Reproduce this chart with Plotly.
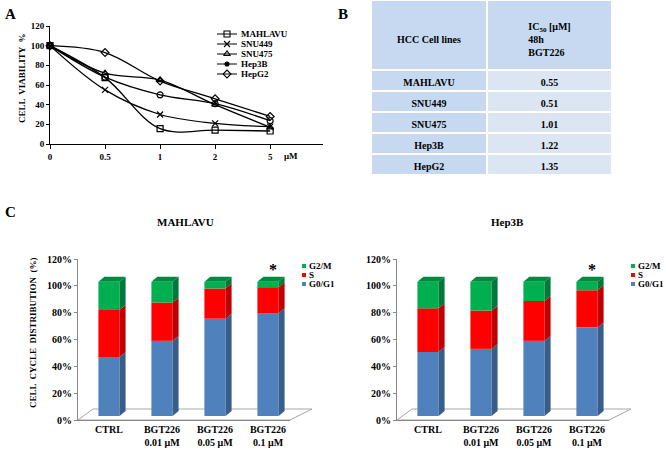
import plotly.graph_objects as go

W, H = 666, 450
def px(x): return x / W
def py(y): return 1 - y / H

FONT = "Liberation Serif"

# ---------------- Panel A data ----------------
doses = ["0", "0.5", "1", "2", "5"]
via_mahlavu = [100, 67.5, 15.6, 14.2, 13.2]
via_snu449 = [100, 55, 30, 21, 17.6]
via_snu475 = [100, 72, 65, 40, 17]
via_hep3b = [100, 68, 50, 41, 23.7]
via_hepg2 = [100, 93, 64, 46, 28]
series_names = ["MAHLAVU", "SNU449", "SNU475", "Hep3B", "HepG2"]
series_symbols = ["square-open", "x-thin-open", "triangle-up-open", "circle-open", "diamond-open"]

# ---------------- Panel B data ----------------
cell_lines = ["MAHLAVU", "SNU449", "SNU475", "Hep3B", "HepG2"]
ic50 = ["0.55", "0.51", "1.01", "1.22", "1.35"]

# ---------------- Panel C data ----------------
treatments = ["CTRL", "BGT226<br>0.01 μM", "BGT226<br>0.05 μM", "BGT226<br>0.1 μM"]
mah_g0g1 = [44, 56, 72.5, 76.5]
mah_s = [35, 28.5, 22.5, 19.5]
mah_g2m = [21, 15.5, 5, 4]
hep_g0g1 = [47.7, 50, 56, 66]
hep_s = [32.5, 28.5, 29.7, 27.7]
hep_g2m = [19.8, 21.5, 14.3, 6.3]
phases = ["G0/G1", "S", "G2/M"]
pct_ticks = [0, 20, 40, 60, 80, 100, 120]
pct_labels = ["0%", "20%", "40%", "60%", "80%", "100%", "120%"]
front_cols = ["#4f81bd", "#ff0000", "#00b050"]
side_cols = ["#385d8a", "#c00000", "#00783a"]
top_col = "#008a3e"

fig = go.Figure()

def note(text, x, y, size=9, angle=0, xanchor="center"):
    fig.add_annotation(x=px(x), y=py(y), xref="paper", yref="paper", text=text,
                       showarrow=False, xanchor=xanchor, yanchor="middle", textangle=angle,
                       font=dict(family=FONT, size=size, color="black", weight="bold"))

# ---------------- Panel A ----------------
all_via = [via_mahlavu, via_snu449, via_snu475, via_hep3b, via_hepg2]
for name, sym, vals in zip(series_names, series_symbols, all_via):
    fig.add_trace(go.Scatter(
        x=doses, y=vals, mode="lines+markers", name=name,
        line=dict(color="black", width=1.3, shape="spline", smoothing=1),
        marker=dict(symbol=sym, size=6, color="black", line=dict(color="black", width=1.2)),
        xaxis="x", yaxis="y", showlegend=False, cliponaxis=False))

# legend A (drawn on a pixel overlay axis)
leg_syms = ["square-open", "x-thin-open", "triangle-up-open", "circle", "diamond-open"]
leg_sizes = [6, 6, 6, 4, 6]
for k, name in enumerate(series_names):
    yk = 34 + 10 * k
    fig.add_trace(go.Scatter(x=[217, 237], y=[yk, yk], mode="lines",
                             line=dict(color="black", width=1), xaxis="x6", yaxis="y6",
                             showlegend=False, hoverinfo="skip"))
    fig.add_trace(go.Scatter(x=[227], y=[yk], mode="markers",
                             marker=dict(symbol=leg_syms[k], size=leg_sizes[k], color="black",
                                         line=dict(color="black", width=1.1)),
                             xaxis="x6", yaxis="y6", showlegend=False, hoverinfo="skip"))
    note(name, 239, yk, 9, xanchor="left")

# ---------------- Panel B ----------------
fig.add_trace(go.Table(
    domain=dict(x=[px(371), px(612)], y=[py(176), py(0)]),
    columnwidth=[116, 125],
    header=dict(values=["\u00a0<br>\u00a0<br>HCC Cell lines", "\u00a0<br>IC<sub>50</sub> [μM]<br>48h<br>BGT226"],
                fill_color="#c6d9f1", line=dict(color="white", width=2), height=70,
                align="center", font=dict(family=FONT, size=10, color="black", weight="bold")),
    cells=dict(values=[cell_lines, ic50],
               fill_color=[["#c6d9f1"] * 5, ["#dce6f2"] * 5],
               line=dict(color="white", width=2), height=21, align="center",
               font=dict(family=FONT, size=10, color="black", weight="bold"))))

# ---------------- Panel C ----------------
BW = 0.4      # front width (category units)
DX = 0.113    # depth offset x
DY = 3.7      # depth offset y (%)
LIFT = 3      # 3-D lift of the front face above the floor line (%)

def add_cycle(xa, ya, g0, s, g2):
    xs = list(range(len(treatments)))
    segs = [g0, s, g2]
    cum = [0] * len(xs)
    for p, vals in enumerate(segs):
        base = [LIFT + c for c in cum]
        fig.add_trace(go.Bar(x=xs, y=vals, base=base, width=BW,
                             marker=dict(color=front_cols[p], line=dict(width=0)),
                             xaxis=xa, yaxis=ya, showlegend=False, name=phases[p]))
        sx, sy = [], []
        for i in xs:
            b0 = base[i]
            b1 = base[i] + vals[i]
            r = i + BW / 2
            sx += [r, r + DX, r + DX, r, None]
            sy += [b0, b0 + DY, b1 + DY, b1, None]
        fig.add_trace(go.Scatter(x=sx, y=sy, fill="toself", fillcolor=side_cols[p], mode="lines",
                                 line=dict(width=0, color=side_cols[p]), xaxis=xa, yaxis=ya,
                                 showlegend=False, hoverinfo="skip"))
        cum = [cum[i] + vals[i] for i in xs]
    tx, ty = [], []
    for i in xs:
        T = LIFT + cum[i]
        l, r = i - BW / 2, i + BW / 2
        tx += [l, l + DX, r + DX, r, None]
        ty += [T, T + DY, T + DY, T, None]
    fig.add_trace(go.Scatter(x=tx, y=ty, fill="toself", fillcolor=top_col, mode="lines",
                             line=dict(width=0, color=top_col), xaxis=xa, yaxis=ya,
                             showlegend=False, hoverinfo="skip"))

add_cycle("x2", "y2", mah_g0g1, mah_s, mah_g2m)
add_cycle("x4", "y4", hep_g0g1, hep_s, hep_g2m)

# floors
for (x0, x1) in [(78, 290), (397, 609)]:
    pts = [(x0, 420), (x0 + 15, 409), (x1 + 22, 409), (x1, 420)]
    path = "M " + " L ".join(f"{px(a)},{py(b)}" for a, b in pts) + " Z"
    fig.add_shape(type="path", path=path, xref="paper", yref="paper",
                  line=dict(color="#a6a6a6", width=1), layer="below")

# legends C
for lx in [302, 631]:
    for k, (lab, col) in enumerate(zip(["G2/M", "S", "G0/G1"], ["#00b050", "#ff0000", "#4f81bd"])):
        yk = 266 + 9 * k
        fig.add_shape(type="rect", xref="paper", yref="paper",
                      x0=px(lx), x1=px(lx + 4), y0=py(yk + 2), y1=py(yk - 2),
                      fillcolor=col, line=dict(width=0))
        note(lab, lx + 5, yk, 9, xanchor="left")

# asterisks
for xa in ["x2", "x4"]:
    fig.add_annotation(x=3.1, y=py(269), xref=xa, yref="paper", text="*", showarrow=False,
                       xanchor="center", yanchor="middle",
                       font=dict(family=FONT, size=16, color="black", weight="bold"))

# titles
note("MAHLAVU", 185, 222, 11)
note("Hep3B", 507, 222, 11)

# panel letters
note("A", 10, 14, 15)
note("B", 343, 14, 15)
note("C", 10, 212, 15)

# axis titles
note("CELL  VIABILITY  %", 22, 78, 9, angle=-90)
note("CELL  CYCLE  DISTRIBUTION  (%)", 33, 333, 9, angle=-90)
note("μM", 291, 156, 9)

tickf = dict(family=FONT, size=9, color="black", weight="bold")
tickc = dict(family=FONT, size=10, color="black", weight="bold")
dom_c = [py(420), py(259)]

fig.update_layout(
    width=W, height=H, margin=dict(l=0, r=0, t=0, b=0, autoexpand=False),
    paper_bgcolor="white", plot_bgcolor="rgba(0,0,0,0)", barmode="overlay", showlegend=False,
    xaxis=dict(domain=[px(50), px(323)], type="category", range=[0, 4.96], anchor="y",
               showline=True, linecolor="black", linewidth=1, ticks="outside", ticklen=4,
               tickcolor="black", showgrid=False, zeroline=False, tickfont=tickf, automargin=False),
    yaxis=dict(domain=[py(144), py(26)], range=[0, 120], tickvals=pct_ticks, anchor="x",
               showline=True, linecolor="black", linewidth=1, ticks="outside", ticklen=3,
               tickcolor="black", showgrid=False, zeroline=False, tickfont=tickf, automargin=False),
    xaxis2=dict(domain=[px(78), px(290)], range=[-0.585, 3.415], anchor="y2",
                tickvals=list(range(len(treatments))), ticktext=treatments,
                showline=True, linecolor="#888888", linewidth=1, ticks="", showgrid=False,
                zeroline=False, tickfont=tickc, automargin=False),
    yaxis2=dict(domain=dom_c, range=[0, 120], tickvals=pct_ticks, ticktext=pct_labels, anchor="x2",
                showline=True, linecolor="#888888", linewidth=1, ticks="outside", ticklen=3,
                tickcolor="#888888", showgrid=False, zeroline=False, tickfont=tickc, automargin=False),
    xaxis4=dict(domain=[px(397), px(609)], range=[-0.585, 3.415], anchor="y4",
                tickvals=list(range(len(treatments))), ticktext=treatments,
                showline=True, linecolor="#888888", linewidth=1, ticks="", showgrid=False,
                zeroline=False, tickfont=tickc, automargin=False),
    yaxis4=dict(domain=dom_c, range=[0, 120], tickvals=pct_ticks, ticktext=pct_labels, anchor="x4",
                showline=True, linecolor="#888888", linewidth=1, ticks="outside", ticklen=3,
                tickcolor="#888888", showgrid=False, zeroline=False, tickfont=tickc, automargin=False),
    xaxis6=dict(domain=[0, 1], range=[0, W], visible=False, anchor="y6"),
    yaxis6=dict(domain=[0, 1], range=[H, 0], visible=False, anchor="x6"),
)

fig.write_html("out.html", config={"displayModeBar": False},
               post_script="document.body.style.margin='0';document.body.style.padding='0';")
